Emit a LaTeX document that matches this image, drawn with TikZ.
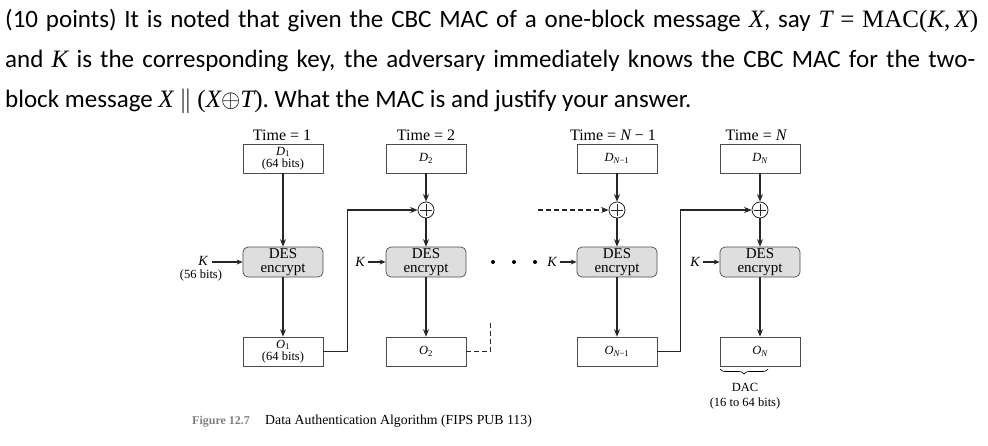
\documentclass[tikz,border=0pt]{standalone}
\usepackage{fontspec}
\setmainfont{Carlito}
\newfontfamily\tms{Liberation Serif}
\usetikzlibrary{arrows.meta,decorations.pathreplacing}
\newcommand{\qi}[1]{{\tms\itshape #1}}
\newcommand{\qu}[1]{{\tms #1}}
\tikzset{
  qline/.style={anchor=base west, inner sep=0pt, font=\fontsize{25}{30}\selectfont},
  blk/.style={draw=black!70, line width=0.7pt, minimum width=80pt, minimum height=29pt, inner sep=0pt, align=center, font=\tms\fontsize{12.5}{12.5}\selectfont},
  desbox/.style={blk, rounded corners=5pt, fill=black!13, minimum height=30pt, font=\tms\fontsize{15}{13.5}\selectfont},
  xorn/.style={circle, draw=black!85, line width=0.8pt, minimum size=16pt, inner sep=0pt,
    path picture={\draw[line width=0.6pt] ([xshift=-6pt]path picture bounding box.center) -- ([xshift=6pt]path picture bounding box.center);
                  \draw[line width=0.6pt] ([yshift=-6pt]path picture bounding box.center) -- ([yshift=6pt]path picture bounding box.center);}},
  tlab/.style={font=\tms\fontsize{16}{16}\selectfont, inner sep=0pt},
  klab/.style={font=\tms\fontsize{14}{14}\selectfont, inner sep=1pt},
  small/.style={font=\tms\fontsize{12.5}{14}\selectfont, inner sep=0pt, align=center},
  arr/.style={-{Stealth[length=7.5pt,width=6pt]}, line width=1.7pt, draw=black!85},
  karr/.style={-{Stealth[length=6pt,width=5pt]}, line width=1.3pt, draw=black!85},
  dashln/.style={line width=1.7pt, draw=black!85, dash pattern=on 5pt off 3pt},
  dotn/.style={circle, fill=black, minimum size=4pt, inner sep=0pt}
}
\begin{document}
\begin{tikzpicture}[x=1pt,y=-1pt]
\useasboundingbox (0,0) rectangle (988,445);
% question text
\node[qline] (l1) at (5,27) {\makebox[973pt][s]{(10 points) It is noted that given the CBC MAC of a one-block message \qi{X}, say \qi{T}~\qu{=}~\qu{MAC(}\qi{K}\qu{,}\,\qi{X}\qu{)}}};
\node[qline] (l2) at (5,67) {\makebox[970pt][s]{and \qi{K} is the corresponding key, the adversary immediately knows the CBC MAC for the two-}};
\node[qline] (l3) at (5,107) {block message \qi{X} $\|$ \qu{(}\qi{X}$\oplus$\qi{T}\qu{)}. What the MAC is and justify your answer.};
% time labels
\node[tlab] (t1) at (282,135) {Time = 1};
\node[tlab] (t2) at (426,135) {Time = 2};
\node[tlab] (t3) at (613,135) {Time = \qi{N} − 1};
\node[tlab] (t4) at (756,135) {Time = \qi{N}};
% data blocks
\node[blk] (D1) at (283,158.5) {\qi{D}\textsubscript{1}\\(64 bits)};
\node[blk] (D2) at (426,158.5) {\qi{D}\textsubscript{2}};
\node[blk] (D3) at (617,158.5) {\qi{D}\textsubscript{\qi{N}−1}};
\node[blk] (D4) at (760,158.5) {\qi{D}\textsubscript{\qi{N}}};
% xor
\node[xorn] (X2) at (426,210) {};
\node[xorn] (X3) at (617,210) {};
\node[xorn] (X4) at (760,210) {};
% DES
\node[desbox] (E1) at (283,262) {DES\\encrypt};
\node[desbox] (E2) at (426,262) {DES\\encrypt};
\node[desbox] (E3) at (617,262) {DES\\encrypt};
\node[desbox] (E4) at (760,262) {DES\\encrypt};
% outputs
\node[blk] (O1) at (283,351.5) {\qi{O}\textsubscript{1}\\(64 bits)};
\node[blk] (O2) at (426,351.5) {\qi{O}\textsubscript{2}};
\node[blk] (O3) at (617,351.5) {\qi{O}\textsubscript{\qi{N}−1}};
\node[blk] (O4) at (760,351.5) {\qi{O}\textsubscript{\qi{N}}};
% keys
\node[klab] (K1) at (203,261) {\qi{K}};
\node[small] (K1b) at (201,275) {(56 bits)};
\node[klab] (K2) at (360,262) {\qi{K}};
\node[klab] (K3) at (552,262) {\qi{K}};
\node[klab] (K4) at (695,262) {\qi{K}};
\coordinate (k1e) at ([xshift=3pt]K1.east |- E1.west);
\draw[karr] (k1e) -- (E1.west);
\draw[karr] ([xshift=2pt]K2.east) -- (E2.west);
\draw[karr] ([xshift=2pt]K3.east) -- (E3.west);
\draw[karr] ([xshift=2pt]K4.east) -- (E4.west);
% dots
\node[dotn] (dt1) at (493,262) {};
\node[dotn] (dt2) at (514,262) {};
\node[dotn] (dt3) at (535,262) {};
% vertical flow
\draw[arr] (D1) -- (E1);
\draw[arr] (D2) -- (X2);
\draw[arr] (X2) -- (E2);
\draw[arr] (D3) -- (X3);
\draw[arr] (X3) -- (E3);
\draw[arr] (D4) -- (X4);
\draw[arr] (X4) -- (E4);
\draw[arr] (E1) -- (O1);
\draw[arr] (E2) -- (O2);
\draw[arr] (E3) -- (O3);
\draw[arr] (E4) -- (O4);
% feedback
\draw[arr] (O1.east) -- ++(24,0) |- (X2.west);
\draw[arr] (O3.east) -- ++(23,0) |- (X4.west);
\draw[dashln] (O2.east) -- ++(24,0) -- ++(0,-30);
\coordinate (ds) at (538,210);
\draw[arr, dash pattern=on 5pt off 3pt] (ds) -- (X3.west);
% brace
\coordinate (b1) at (720,369);
\coordinate (b2) at (768,369);
\draw[line width=0.7pt, decorate, decoration={brace, mirror, amplitude=5pt}] (b1) -- (b2);
\node[small, font=\tms\fontsize{12.5}{14.5}\selectfont] (dac) at (745,396) {DAC\\(16 to 64 bits)};
% caption
\node[anchor=base west, inner sep=0pt, text=black!50, font=\tms\bfseries\fontsize{12}{12}\selectfont] (fig) at (192,424) {Figure 12.7};
\node[anchor=base west, inner sep=0pt, font=\tms\fontsize{13.8}{14}\selectfont] (cap) at (265,424) {Data Authentication Algorithm (FIPS PUB 113)};
\end{tikzpicture}
\end{document}
